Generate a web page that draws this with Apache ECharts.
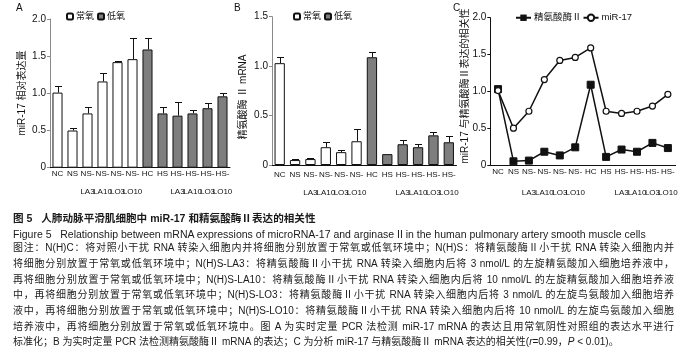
<!DOCTYPE html>
<html><head><meta charset="utf-8">
<script src="https://cdn.jsdelivr.net/npm/echarts@6/dist/echarts.min.js"></script>
<style>
html,body{margin:0;padding:0;background:#fff;width:699px;height:361px;overflow:hidden;}
#chart{position:absolute;left:0;top:0;width:699px;height:361px;}
.cap{position:absolute;left:13px;white-space:nowrap;font-family:"Liberation Sans","Noto Sans CJK SC",sans-serif;color:#1a1a1a;}
.j{width:661px;text-align:justify;text-align-last:justify;white-space:normal;}
</style></head><body>
<div id="chart"></div>
<div class="cap" style="top:211px;font-size:10.6px;line-height:14px;font-weight:bold;">图 5&nbsp;&nbsp;&nbsp;人肺动脉平滑肌细胞中 miR-17 和精氨酸酶Ⅱ表达的相关性</div>
<div class="cap" style="top:227px;font-size:10.5px;line-height:14px;">Figure 5&nbsp;&nbsp;&nbsp;Relationship between mRNA expressions of microRNA-17 and arginase II in the human pulmonary artery smooth muscle cells</div>
<div id="notes"></div>
<script>
// ---- data ----
const categories = ['NC','NS','NS-LA3','NS-LA10','NS-LO3','NS-LO10','HC','HS','HS-LA3','HS-LA10','HS-LO3','HS-LO10'];
const mirMean = [1.01,0.50,0.73,1.16,1.42,1.46,1.59,0.73,0.70,0.73,0.80,0.96];
const mirSD   = [0.09,0.04,0.09,0.11,0.01,0.28,0.16,0.09,0.18,0.04,0.07,0.05];
const argMean = [1.03,0.05,0.06,0.18,0.13,0.24,1.09,0.11,0.21,0.18,0.30,0.23];
const argSD   = [0.065,0.01,0.01,0.05,0.02,0.12,0.05,0,0.04,0.03,0.03,0.06];
const normoxiaIdx = [0,1,2,3,4,5];
const noteLines = [
 '图注：N(H)C：将对照小干扰 RNA 转染入细胞内并将细胞分别放置于常氧或低氧环境中；N(H)S：将精氨酸酶Ⅱ小干扰 RNA 转染入细胞内并',
 '将细胞分别放置于常氧或低氧环境中；N(H)S-LA3：将精氨酸酶Ⅱ小干扰 RNA 转染入细胞内后将 3 nmol/L 的左旋精氨酸加入细胞培养液中，',
 '再将细胞分别放置于常氧或低氧环境中；N(H)S-LA10：将精氨酸酶Ⅱ小干扰 RNA 转染入细胞内后将 10 nmol/L 的左旋精氨酸加入细胞培养液',
 '中，再将细胞分别放置于常氧或低氧环境中；N(H)S-LO3：将精氨酸酶Ⅱ小干扰 RNA 转染入细胞内后将 3 nmol/L 的左旋鸟氨酸加入细胞培养',
 '液中，再将细胞分别放置于常氧或低氧环境中；N(H)S-LO10：将精氨酸酶Ⅱ小干扰 RNA 转染入细胞内后将 10 nmol/L 的左旋鸟氨酸加入细胞',
 '培养液中，再将细胞分别放置于常氧或低氧环境中。图 A 为实时定量 PCR 法检测 miR-17 mRNA 的表达且用常氧阴性对照组的表达水平进行',
 '标准化；B 为实时定量 PCR 法检测精氨酸酶Ⅱ mRNA 的表达；C 为分析 miR-17 与精氨酸酶Ⅱ mRNA 表达的相关性(<i>r</i>=0.99，<i>P</i> &lt; 0.01)。'
];
const noteCenters = [248.3,264,279.6,295.4,311.2,326.8,342.2];

// caption notes (HTML text)
const notes = document.getElementById('notes');
noteLines.forEach((t,i)=>{
  const d = document.createElement('div');
  d.className = 'cap' + (i < noteLines.length-1 ? ' j' : '');
  d.style.fontSize = '10px';
  d.style.lineHeight = '12px';
  d.style.top = (noteCenters[i]-6) + 'px';
  d.innerHTML = t;
  notes.appendChild(d);
});

const chart = echarts.init(document.getElementById('chart'), null, {renderer:'canvas'});
const FONT = '"Liberation Sans", Arial, "Noto Sans CJK SC", sans-serif';
const BLACK = '#111';

function splitData(vals, idxs, include){
  return vals.map((v,i)=> (idxs.includes(i) === include) ? v : '-');
}
function errData(means, sds){
  return means.map((m,i)=>[i, m, m + sds[i]]);
}
function errRender(params, api){
  const x = api.value(0), m = api.value(1), t = api.value(2);
  if (t - m < 0.004) return null;
  const p1 = api.coord([x, m]); const p2 = api.coord([x, t]);
  const cx = Math.round(p1[0]) + 0.5, yt = Math.round(p2[1]) + 0.5;
  return {type:'group', children:[
    {type:'line', shape:{x1:cx,y1:p1[1],x2:cx,y2:yt}, style:{stroke:BLACK,lineWidth:1}},
    {type:'line', shape:{x1:cx-3.5,y1:yt,x2:cx+3.5,y2:yt}, style:{stroke:BLACK,lineWidth:1}}
  ]};
}
function xLabelFmt(v){
  const p = v.split('-');
  if (p.length === 1) return '{a|' + v + '}';
  return '{a|' + p[0] + '-}\n{b|' + p[1] + '}';
}
function xAxis(gi, margin, bLH){
  return {
    type:'category', gridIndex:gi, data:categories, boundaryGap:true,
    axisLine:{show:true, lineStyle:{color:BLACK, width:1}},
    axisTick:{show:false},
    axisLabel:{interval:0, margin:margin, formatter:xLabelFmt, color:BLACK, fontFamily:FONT, fontSize:8,
      rich:{a:{fontSize:8, lineHeight:10, fontFamily:FONT, color:BLACK}, b:{fontSize:8, lineHeight:bLH, fontFamily:FONT, color:BLACK}}}
  };
}
function yAxis(gi, max, axisColor){
  return {
    type:'value', gridIndex:gi, min:0, max:max, interval:0.5,
    axisLine:{show:true, lineStyle:{color:axisColor, width:1}},
    axisTick:{show:true, length:3, lineStyle:{color:axisColor}},
    splitLine:{show:false},
    axisLabel:{margin:4, color:BLACK, fontFamily:FONT, fontSize:10,
      formatter:(v)=> v === 0 ? '0' : v.toFixed(1)}
  };
}
const barBase = {type:'bar', barWidth:'67%', barGap:'-100%', animation:false};

const option = {
  animation:false,
  backgroundColor:'#fff',
  textStyle:{fontFamily:FONT},
  grid:[
    {left:50, top:19, width:180, height:148.7},
    {left:272, top:16.7, width:184.5, height:148.3},
    {left:490.3, top:17.7, width:185.3, height:147.3}
  ],
  xAxis:[xAxis(0,1.5,26), xAxis(1,5,25), xAxis(2,1.5,32)],
  yAxis:[yAxis(0,2.0,'#8a8a8a'), yAxis(1,1.5,'#8a8a8a'), yAxis(2,2.0,BLACK)],
  legend:[
    {left:66, top:12, orient:'horizontal', itemWidth:6, itemHeight:6, itemGap:3, padding:0,
     data:['常氧','低氧'], textStyle:{fontSize:9, color:BLACK, fontFamily:FONT, padding:[0,0,0,-2]}},
    {left:293, top:12, orient:'horizontal', itemWidth:6, itemHeight:6, itemGap:3, padding:0,
     data:['常氧','低氧'], textStyle:{fontSize:9, color:BLACK, fontFamily:FONT, padding:[0,0,0,-2]}},
    {left:515, top:13, orient:'horizontal', itemWidth:15, itemHeight:8, itemGap:1, padding:0,
     data:['精氨酸酶Ⅱ','miR-17'], textStyle:{fontSize:9.5, color:BLACK, fontFamily:FONT, padding:[0,0,0,-2]}}
  ],
  series:[
    Object.assign({}, barBase, {name:'常氧', xAxisIndex:0, yAxisIndex:0, data:splitData(mirMean, normoxiaIdx, true),
      itemStyle:{color:'#fff', borderColor:BLACK, borderWidth:1}}),
    Object.assign({}, barBase, {name:'低氧', xAxisIndex:0, yAxisIndex:0, data:splitData(mirMean, normoxiaIdx, false),
      itemStyle:{color:'#7e7e7e', borderColor:BLACK, borderWidth:1}}),
    {type:'custom', xAxisIndex:0, yAxisIndex:0, renderItem:errRender, data:errData(mirMean, mirSD), z:5, silent:true},
    Object.assign({}, barBase, {name:'常氧', xAxisIndex:1, yAxisIndex:1, data:splitData(argMean, normoxiaIdx, true),
      itemStyle:{color:'#fff', borderColor:BLACK, borderWidth:1}}),
    Object.assign({}, barBase, {name:'低氧', xAxisIndex:1, yAxisIndex:1, data:splitData(argMean, normoxiaIdx, false),
      itemStyle:{color:'#7e7e7e', borderColor:BLACK, borderWidth:1}}),
    {type:'custom', xAxisIndex:1, yAxisIndex:1, renderItem:errRender, data:errData(argMean, argSD), z:5, silent:true},
    {type:'line', name:'精氨酸酶Ⅱ', xAxisIndex:2, yAxisIndex:2, data:argMean, symbol:'rect', symbolSize:7,
      lineStyle:{color:BLACK, width:1.5}, itemStyle:{color:BLACK, borderColor:BLACK}},
    {type:'line', name:'miR-17', xAxisIndex:2, yAxisIndex:2, data:mirMean, symbol:'circle', symbolSize:6,
      lineStyle:{color:BLACK, width:1.5}, itemStyle:{color:'#fff', borderColor:BLACK, borderWidth:1.2}}
  ],
  graphic:[
    {type:'text', left:16, top:3, style:{text:'A', font:'10px '+FONT, fill:BLACK}},
    {type:'text', left:234, top:3, style:{text:'B', font:'10px '+FONT, fill:BLACK}},
    {type:'text', left:453, top:3, style:{text:'C', font:'10px '+FONT, fill:BLACK}},
    {type:'text', x:22, y:93, rotation:Math.PI/2, style:{text:'miR-17 相对表达量', font:'10px '+FONT, fill:BLACK, align:'center', verticalAlign:'middle'}},
    {type:'text', x:243, y:97, rotation:Math.PI/2, style:{text:'精氨酸酶 Ⅱ mRNA', font:'10px '+FONT, fill:BLACK, align:'center', verticalAlign:'middle'}},
    {type:'text', x:465, y:86, rotation:Math.PI/2, style:{text:'miR-17 与精氨酸酶Ⅱ表达的相关性', font:'10px '+FONT, fill:BLACK, align:'center', verticalAlign:'middle'}}
  ]
};
chart.setOption(option);
</script>
</body></html>
